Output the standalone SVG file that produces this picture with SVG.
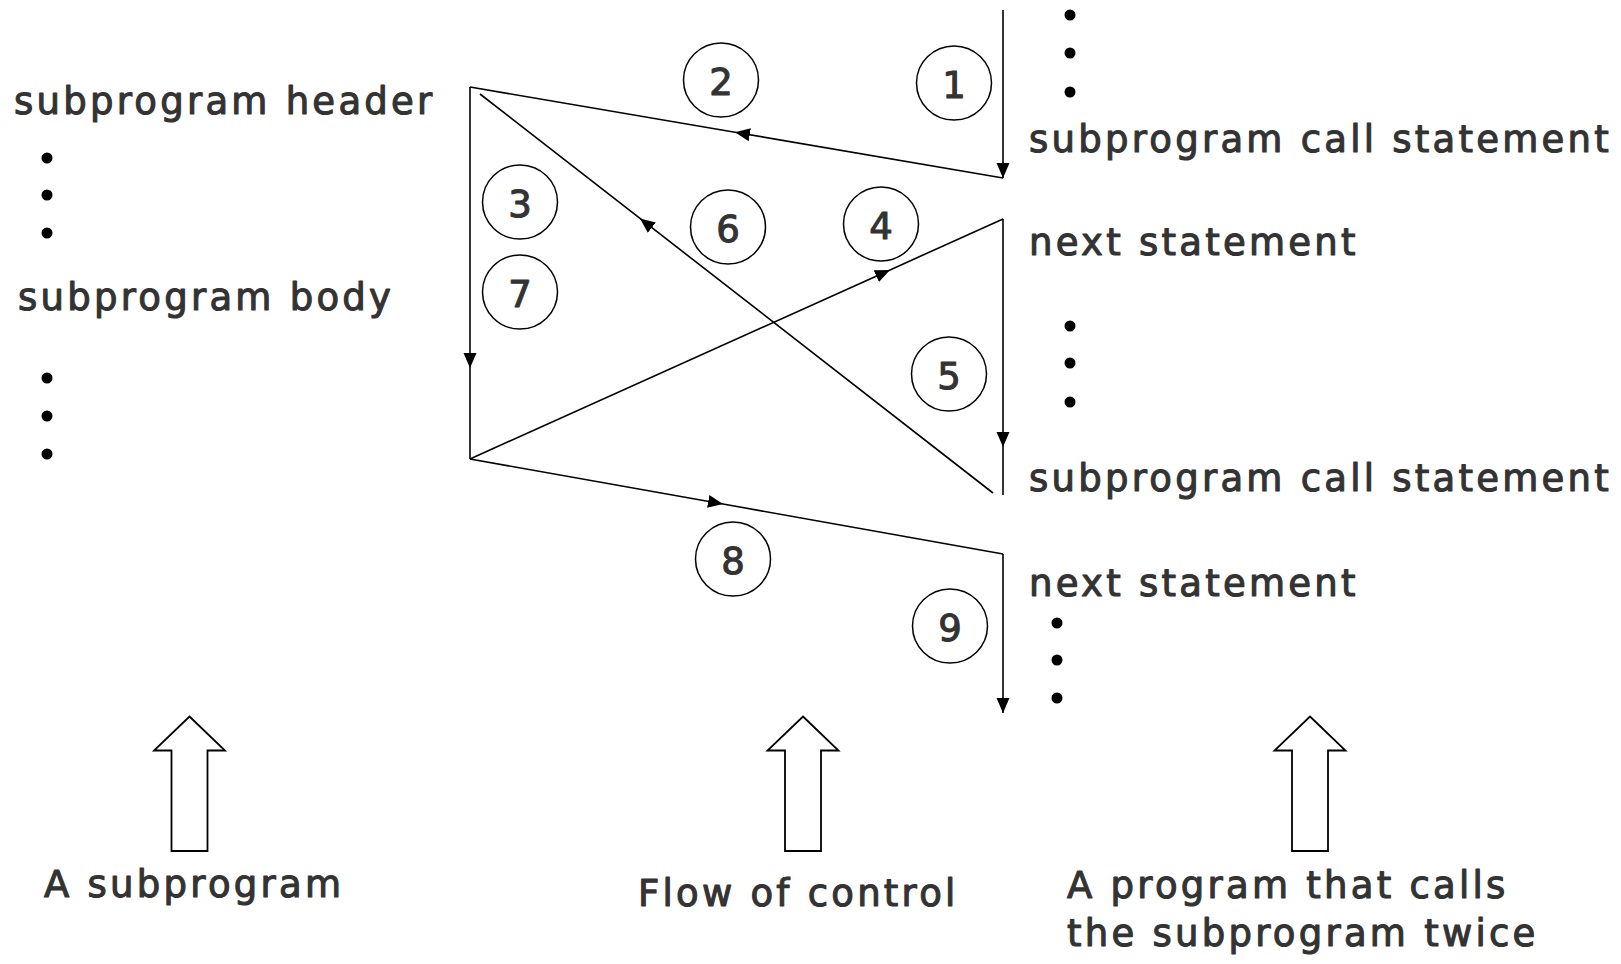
<svg xmlns="http://www.w3.org/2000/svg" width="1621" height="964" viewBox="0 0 1621 964">
<defs>
<style>
.t{font-family:"DejaVu Sans","Liberation Sans",sans-serif;font-size:37px;letter-spacing:3.25px;fill:#333333;stroke:#333333;stroke-width:1.1px;stroke-linejoin:round}
.n{font-family:"DejaVu Sans","Liberation Sans",sans-serif;font-size:37px;fill:#333333;stroke:#333333;stroke-width:1.1px;stroke-linejoin:round;text-anchor:middle}
.ln{fill:none;stroke:#000;stroke-width:1.6}
.c{fill:none;stroke:#000;stroke-width:1.5}
.blk{fill:#fff;stroke:#000;stroke-width:1.8;stroke-linejoin:miter}
.dot{fill:#000}
</style>
<marker id="ah" markerUnits="userSpaceOnUse" markerWidth="16" markerHeight="14" refX="15" refY="7" orient="auto">
<path d="M0,0.5 L15,7 L0,13.5 z" fill="#000"/>
</marker>
</defs>
<rect width="1621" height="964" fill="#fff"/>

<g id="connectors">
<path class="ln" d="M1003,10 L1003,178" marker-end="url(#ah)"/>
<path class="ln" d="M1003,178 L735,132.2 L470,87" marker-mid="url(#ah)"/>
<path class="ln" d="M470,87 L470,368 L470,459" marker-mid="url(#ah)"/>
<path class="ln" d="M470,459 L890,269.9 L1003,219" marker-mid="url(#ah)"/>
<path class="ln" d="M1003,219 L1003,447 L1003,495" marker-mid="url(#ah)"/>
<path class="ln" d="M993,493 L640,218.4 L480,94" marker-mid="url(#ah)"/>
<path class="ln" d="M470,459 L723,504 L1003,554" marker-mid="url(#ah)"/>
<path class="ln" d="M1003,554 L1003,713" marker-end="url(#ah)"/>
</g>

<g id="step1"><ellipse class="c" cx="954" cy="83" rx="37.5" ry="37"/><text class="n" x="954" y="98">1</text></g>
<g id="step2"><ellipse class="c" cx="721" cy="80" rx="37.5" ry="37"/><text class="n" x="721" y="95">2</text></g>
<g id="step3"><ellipse class="c" cx="520" cy="202" rx="37.5" ry="37"/><text class="n" x="520" y="217">3</text></g>
<g id="step4"><ellipse class="c" cx="881" cy="224" rx="37.5" ry="37"/><text class="n" x="881" y="239">4</text></g>
<g id="step5"><ellipse class="c" cx="949" cy="374" rx="37.5" ry="37"/><text class="n" x="949" y="389">5</text></g>
<g id="step6"><ellipse class="c" cx="728" cy="227" rx="37.5" ry="37"/><text class="n" x="728" y="242">6</text></g>
<g id="step7"><ellipse class="c" cx="520" cy="292" rx="37.5" ry="37"/><text class="n" x="520" y="307">7</text></g>
<g id="step8"><ellipse class="c" cx="733" cy="559" rx="37.5" ry="37"/><text class="n" x="733" y="574">8</text></g>
<g id="step9"><ellipse class="c" cx="950" cy="626" rx="37.5" ry="37"/><text class="n" x="950" y="641">9</text></g>

<g id="subprogram">
<text class="t" x="14" y="114">subprogram header</text>
<circle class="dot" cx="47" cy="158" r="5.5"/>
<circle class="dot" cx="47" cy="195" r="5.5"/>
<circle class="dot" cx="47" cy="233" r="5.5"/>
<text class="t" x="18" y="310">subprogram body</text>
<circle class="dot" cx="47" cy="378" r="5.5"/>
<circle class="dot" cx="47" cy="416" r="5.5"/>
<circle class="dot" cx="47" cy="454" r="5.5"/>
</g>

<g id="caller">
<circle class="dot" cx="1070" cy="15" r="5.5"/>
<circle class="dot" cx="1070" cy="53" r="5.5"/>
<circle class="dot" cx="1070" cy="92" r="5.5"/>
<text class="t" x="1029" y="152">subprogram call statement</text>
<text class="t" x="1029" y="255">next statement</text>
<circle class="dot" cx="1070" cy="326" r="5.5"/>
<circle class="dot" cx="1070" cy="363" r="5.5"/>
<circle class="dot" cx="1070" cy="402" r="5.5"/>
<text class="t" x="1029" y="491">subprogram call statement</text>
<text class="t" x="1029" y="596">next statement</text>
<circle class="dot" cx="1057" cy="623" r="5.5"/>
<circle class="dot" cx="1057" cy="660" r="5.5"/>
<circle class="dot" cx="1057" cy="698" r="5.5"/>
</g>

<g id="label-subprogram">
<path class="blk" d="M189.5,716.5 L225,750.5 L207.5,750.5 L207.5,851 L171.5,851 L171.5,750.5 L154,750.5 Z"/>
<text class="t" x="44" y="897">A subprogram</text>
</g>
<g id="label-flow">
<path class="blk" d="M803,716.5 L838.5,750.5 L821,750.5 L821,851 L785,851 L785,750.5 L767.5,750.5 Z"/>
<text class="t" x="638" y="906">Flow of control</text>
</g>
<g id="label-program">
<path class="blk" d="M1310,716.5 L1345.5,750.5 L1328,750.5 L1328,851 L1292,851 L1292,750.5 L1274.5,750.5 Z"/>
<text class="t" x="1067" y="898">A program that calls</text>
<text class="t" x="1067" y="946">the subprogram twice</text>
</g>
</svg>
